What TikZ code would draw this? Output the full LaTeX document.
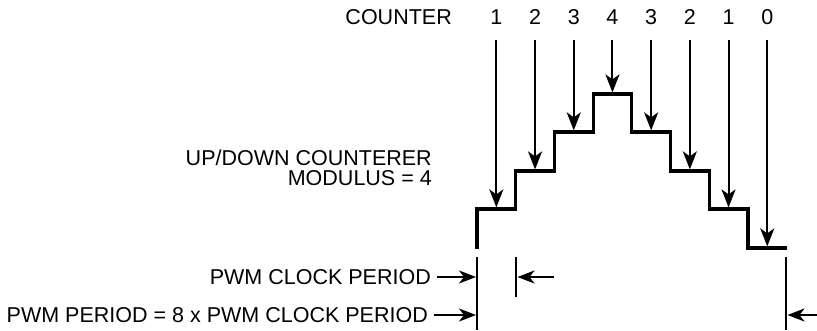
\documentclass[tikz,border=0pt]{standalone}
\usepackage{fontspec}
\setmainfont{Liberation Sans}
\usetikzlibrary{arrows.meta}
\begin{document}
\begin{tikzpicture}[x=1pt,y=-1pt,
  lbl/.style={inner sep=0pt,font=\fontsize{21.5}{20}\selectfont},
  wave/.style={line width=3.2pt,line join=miter,line cap=butt},
  tickline/.style={line width=2.2pt},
  arr/.style={line width=2pt,-{Stealth[length=18pt,width=14pt,inset=5pt]}},
  harr/.style={line width=2pt,-{Stealth[length=17pt,width=13pt,inset=5pt]}}]
\useasboundingbox (0,0) rectangle (817,331);
% step positions
\def\sx{38.7}
\def\xo{477}
% counter labels
\node[lbl,anchor=base east] (counter) at (452,25) {COUNTER};
\foreach \i/\v/\lev in {0/1/209,1/2/171,2/3/132,3/4/94,4/3/132,5/2/171,6/1/209,7/0/248}{
  \pgfmathsetmacro{\xm}{\xo+\sx*\i+\sx/2}
  \node[lbl,anchor=base] (n\i) at (\xm,25) {\v};
  \coordinate (top\i) at (\xm,40);
  \coordinate (tip\i) at (\xm,\lev-1.6);
  \draw[arr] (top\i) -- (tip\i);
}
% waveform
\coordinate (w0) at (477,249);
\draw[wave] (w0) -- (477,209) -- (515.7,209) -- (515.7,171) -- (554.4,171) -- (554.4,132)
  -- (593.1,132) -- (593.1,94) -- (631.8,94) -- (631.8,132) -- (670.5,132) -- (670.5,171)
  -- (709.2,171) -- (709.2,209) -- (747.9,209) -- (747.9,248) -- (787,248);
% label
\node[lbl,anchor=base east] (ud) at (432,166) {UP/DOWN COUNTERER};
\node[lbl,anchor=base east] (mod) at (432,186) {MODULUS = 4};
% bottom ticks
\coordinate (a1) at (477,257); \coordinate (a2) at (477,330);
\coordinate (b1) at (516,257); \coordinate (b2) at (516,297);
\coordinate (c1) at (786,257); \coordinate (c2) at (786,330);
\draw[tickline] (a1) -- (a2);
\draw[tickline] (b1) -- (b2);
\draw[tickline] (c1) -- (c2);
% bottom labels
\node[lbl,anchor=base east] (clk) at (431,284) {PWM CLOCK PERIOD};
\node[lbl,anchor=base east] (per) at (428,322) {PWM PERIOD = 8 x PWM CLOCK PERIOD};
\coordinate (clkend) at (476,277);
\coordinate (perend) at (476,315);
\draw[harr] (clk.east |- clkend) ++(6,0) -- (clkend);
\draw[harr] (per.east |- perend) ++(6,0) -- (perend);
\coordinate (lt) at (554,277); \coordinate (ltend) at (517.5,277);
\draw[harr] (lt) -- (ltend);
\coordinate (rt) at (817,315); \coordinate (rtend) at (787.5,315);
\draw[harr] (rt) -- (rtend);
\end{tikzpicture}
\end{document}
